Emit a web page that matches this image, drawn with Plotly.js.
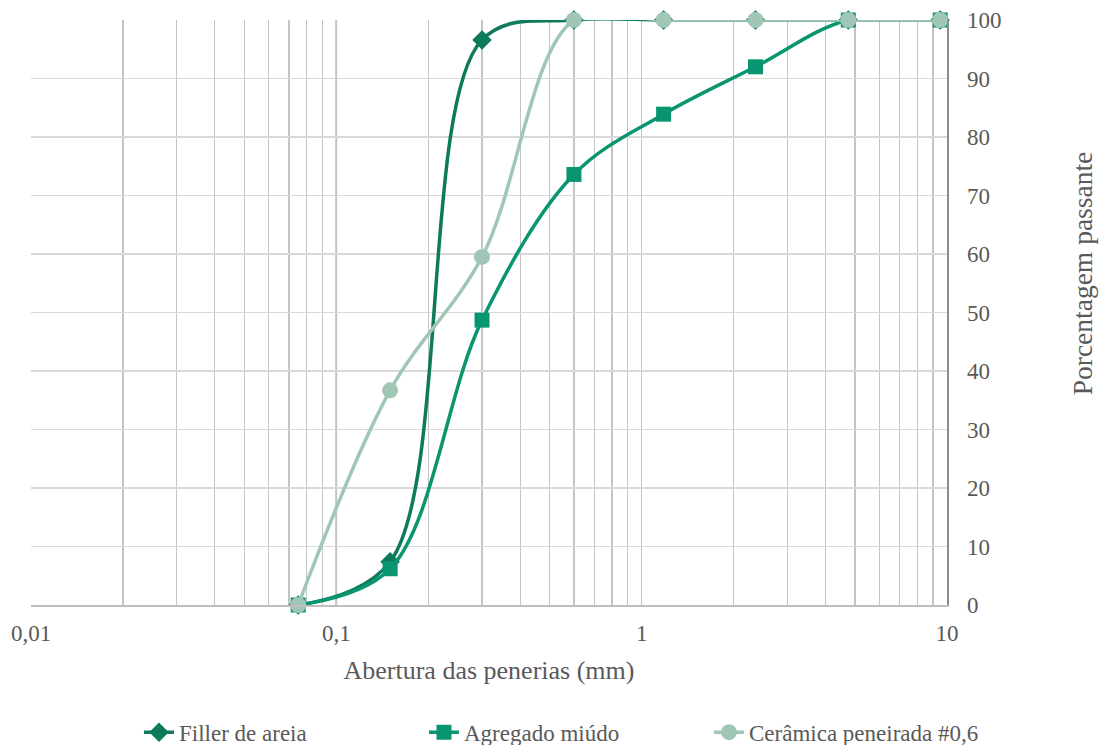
<!DOCTYPE html>
<html>
<head>
<meta charset="utf-8">
<script src="https://cdn.plot.ly/plotly-3.0.1.min.js"></script>
<style>html,body{margin:0;padding:0;background:#fff;}#chart{width:1103px;height:745px;}</style>
</head>
<body>
<div id="chart"></div>
<script>
// Sieve openings (mm)
const sieves = [0.075, 0.15, 0.3, 0.6, 1.18, 2.36, 4.75, 9.5];
// Percentage passing
const fillerAreia = [0, 7.4, 96.6, 100, 100, 100, 100, 100];
const agregadoMiudo = [0, 6.2, 48.7, 73.6, 83.9, 92.0, 100, 100];
const ceramica = [0, 36.7, 59.5, 100, 100, 100, 100, 100];
const seriesNames = ['Filler de areia', 'Agregado miúdo', 'Cerâmica peneirada #0,6'];
const xTickVals = [0.01, 0.1, 1, 10];
const xTickText = ['0,01', '0,1', '1', '10'];
const yTickVals = [0, 10, 20, 30, 40, 50, 60, 70, 80, 90, 100];

const minorVals = [];
[0.01, 0.1, 1].forEach(d => { for (let k = 2; k <= 9; k++) minorVals.push(d * k); });

const fam = 'Liberation Serif, Times New Roman, serif';
const font = {family: fam, color: '#595959', size: 23};

function trace(y, name, color, symbol, size) {
  return {
    x: sieves, y: y, name: name, type: 'scatter', mode: 'lines+markers',
    line: {color: color, width: 3.5, shape: 'spline', smoothing: 1},
    marker: {color: color, symbol: symbol, size: size},
    cliponaxis: false
  };
}

const data = [
  trace(fillerAreia, seriesNames[0], '#0c7a5b', 'diamond', 15),
  trace(agregadoMiudo, seriesNames[1], '#09956f', 'square', 15),
  trace(ceramica, seriesNames[2], '#a0c7b6', 'circle', 16)
];

const layout = {
  width: 1103, height: 745,
  margin: {l: 31, r: 156, t: 20, b: 140},
  paper_bgcolor: '#fff', plot_bgcolor: '#fff',
  font: font,
  separators: ',.',
  showlegend: true,
  legend: {orientation: 'h', xref: 'container', x: 0.126, xanchor: 'left', yref: 'container', y: 0.046, yanchor: 'top', bgcolor: 'rgba(0,0,0,0)', font: {size: 23, color: '#595959', family: fam}, entrywidth: 240, itemwidth: 30, tracegroupgap: 0},
  xaxis: {
    type: 'log', range: [-2, 1], tickvals: xTickVals, ticktext: xTickText,
    showgrid: true, gridcolor: '#c4c4c4', gridwidth: 1.3,
    minor: {tickvals: minorVals, showgrid: true, gridcolor: '#c4c4c4', gridwidth: 1.3, ticks: ''},
    showline: true, linecolor: '#bfbfbf', linewidth: 1.5, mirror: false,
    ticks: '', ticklabelstandoff: 7, zeroline: false,
    tickfont: {size: 23, color: '#595959', family: fam},
    title: {text: 'Abertura das penerias (mm)', standoff: 15, font: {size: 26, color: '#595959', family: fam}}
  },
  yaxis: {
    side: 'right', range: [0, 100], tickvals: yTickVals,
    showgrid: true, gridcolor: '#d9d9d9', gridwidth: 1.3,
    showline: true, linecolor: '#8c8c8c', linewidth: 1.5,
    ticks: '', ticklabelstandoff: 14, zeroline: false,
    tickfont: {size: 23, color: '#595959', family: fam}
  },
  shapes: [
    {type: 'line', xref: 'x', yref: 'paper', x0: 0.1, x1: 0.1, y0: 0, y1: 1, line: {color: '#8c8c8c', width: 1.5}, layer: 'below'}
  ],
  annotations: [
    {text: 'Porcentagem passante', xref: 'paper', yref: 'paper', x: 1.0 + 135/916, y: 0.567, textangle: -90, showarrow: false, xanchor: 'center', yanchor: 'middle', font: {size: 27.5, color: '#595959', family: fam}}
  ]
};

Plotly.newPlot('chart', data, layout, {displayModeBar: false, staticPlot: true});
</script>
</body>
</html>
